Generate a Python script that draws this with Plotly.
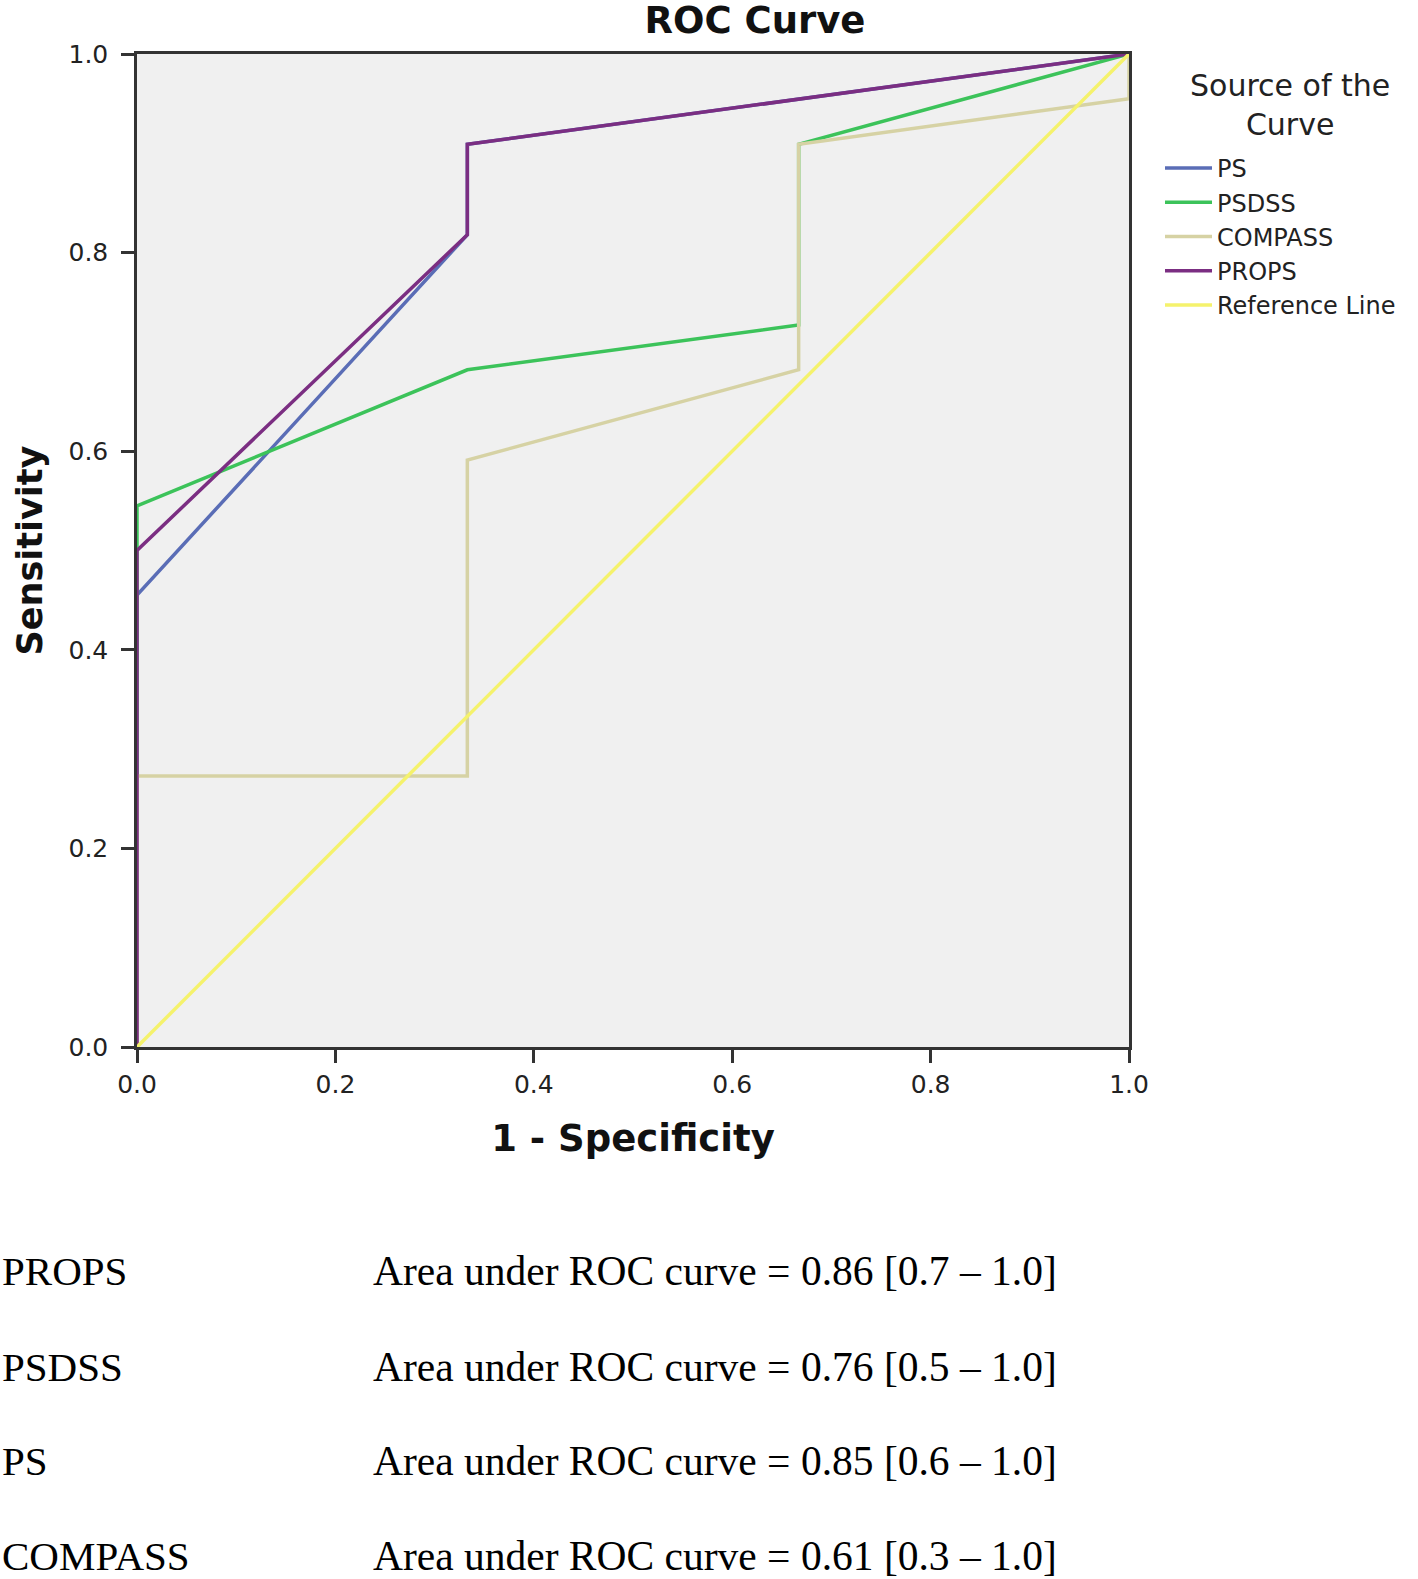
import plotly.graph_objects as go

W, H = 1418, 1579
PL, PR, PT, PB = 137, 1129, 54, 1047  # plot area pixel bounds

# ---- data ----
ps_x = [0.0, 0.0, 0.333, 0.333, 1.0]
ps_y = [0.0, 0.455, 0.818, 0.909, 1.0]

psdss_x = [0.0, 0.0, 0.333, 0.667, 0.667, 1.0]
psdss_y = [0.0, 0.545, 0.682, 0.727, 0.909, 1.0]

compass_x = [0.0, 0.0, 0.333, 0.333, 0.667, 0.667, 1.0, 1.0]
compass_y = [0.0, 0.273, 0.273, 0.591, 0.682, 0.909, 0.955, 1.0]

props_x = [0.0, 0.0, 0.333, 0.333, 1.0]
props_y = [0.0, 0.5, 0.818, 0.909, 1.0]

ref_x = [0.0, 1.0]
ref_y = [0.0, 1.0]

series_names = ["PS", "PSDSS", "COMPASS", "PROPS", "Reference Line"]
series_colors = ["#5a6db6", "#3cc35a", "#d6d2a4", "#7b2e82", "#f5f26c"]

legend_title = "Source of the<br>Curve"

auc_names = ["PROPS", "PSDSS", "PS", "COMPASS"]
auc_texts = [
    "Area under ROC curve = 0.86 [0.7 \u2013 1.0]",
    "Area under ROC curve = 0.76 [0.5 \u2013 1.0]",
    "Area under ROC curve = 0.85 [0.6 \u2013 1.0]",
    "Area under ROC curve = 0.61 [0.3 \u2013 1.0]",
]
ticks = [0.0, 0.2, 0.4, 0.6, 0.8, 1.0]
tick_labels = ["0.0", "0.2", "0.4", "0.6", "0.8", "1.0"]

xs = [ps_x, psdss_x, compass_x, props_x, ref_x]
ys = [ps_y, psdss_y, compass_y, props_y, ref_y]

fig = go.Figure()
for name, color, x, y in zip(series_names, series_colors, xs, ys):
    fig.add_trace(go.Scatter(x=x, y=y, mode="lines", name=name,
                             line=dict(color=color, width=3.5)))

def px_x(p):
    return (p - PL) / (PR - PL)

def px_y(p):
    return (PB - p) / (PB - PT)

# legend title (centred above the legend items)
fig.add_annotation(x=px_x(1290), y=px_y(105), xref="paper", yref="paper",
                   text=legend_title, showarrow=False, xanchor="center",
                   yanchor="middle", align="center",
                   font=dict(family="DejaVu Sans", size=30, color="#222"))

row_y = [1271, 1367, 1461, 1556]
for nm, tx, yy in zip(auc_names, auc_texts, row_y):
    fig.add_annotation(x=px_x(0), y=px_y(yy), xref="paper", yref="paper",
                       text=nm, showarrow=False, xanchor="left", yanchor="middle",
                       font=dict(family="Liberation Serif", size=41, color="#000"))
    fig.add_annotation(x=px_x(371), y=px_y(yy), xref="paper", yref="paper",
                       text=tx, showarrow=False, xanchor="left", yanchor="middle",
                       font=dict(family="Liberation Serif", size=41.5, color="#000"))

axis_common = dict(
    range=[0, 1], tickvals=ticks, ticktext=tick_labels,
    showgrid=False, zeroline=False,
    showline=True, mirror=True, linecolor="#333333", linewidth=2.5,
    ticks="outside", ticklen=13, tickwidth=2.5, tickcolor="#333333",
    tickfont=dict(family="DejaVu Sans", size=25, color="#222222"),
)

fig.update_layout(
    width=W, height=H,
    margin=dict(l=PL, r=W - PR, t=PT, b=H - PB),
    paper_bgcolor="white", plot_bgcolor="#f0f0f0",
    title=dict(text="<b>ROC Curve</b>", x=755 / W, xanchor="center",
               y=1 - 20 / H, yanchor="middle",
               font=dict(family="DejaVu Sans", size=37, color="#111")),
    xaxis=dict(**axis_common,
               title=dict(text="<b>1 - Specificity</b>", standoff=28,
                          font=dict(family="DejaVu Sans", size=37, color="#111"))),
    yaxis=dict(**axis_common, ticklabelstandoff=8,
               title=dict(text="<b>Sensitivity</b>", standoff=16,
                          font=dict(family="DejaVu Sans", size=35, color="#111"))),
    legend=dict(
        xref="container", yref="container",
        x=1160 / W, y=1 - 146 / H, xanchor="left", yanchor="top",
        font=dict(family="DejaVu Sans", size=24, color="#222"),
        itemwidth=47, bgcolor="rgba(0,0,0,0)", tracegroupgap=0,
    ),
    showlegend=True,
)

fig.write_html("out.html", config={"displayModeBar": False},
               post_script="document.body.style.margin='0';")
